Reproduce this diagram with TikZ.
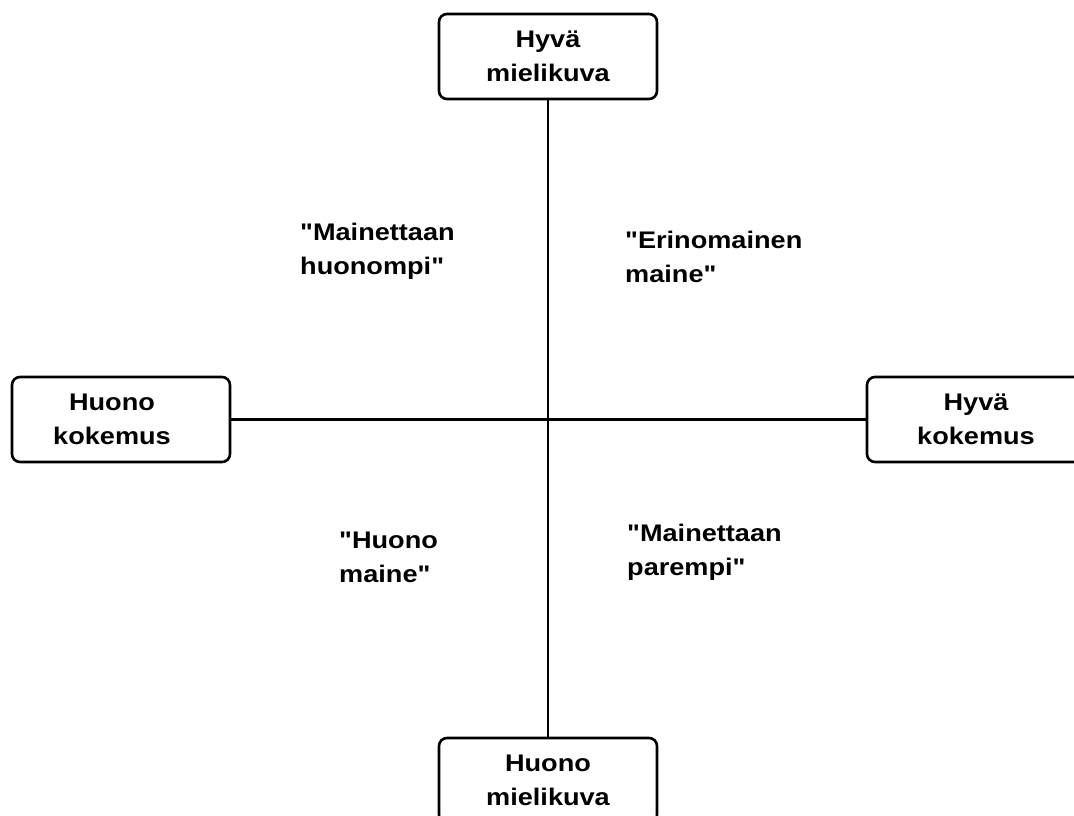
\documentclass[tikz,border=0pt]{standalone}
\usepackage{fontspec}
\newfontfamily\labfont{Liberation Sans}[FakeStretch=1.13]
\newcommand\lsh{\hspace*{-18pt}}
\begin{document}
\begin{tikzpicture}[x=1pt,y=-1pt,
  lab/.style={font=\labfont\fontsize{24}{34}\selectfont\bfseries, inner sep=0pt},
  box/.style={lab, draw, line width=2.6pt, rounded corners=8pt,
    minimum width=218pt, minimum height=85pt, align=center},
  quad/.style={lab, align=left, anchor=base west},
  axis/.style={line width=2.6pt}]
\useasboundingbox (0,0) rectangle (1074,816);
\fill[white] (0,0) rectangle (1074,816);
\clip (0,0) rectangle (1074,816);
\node[box] (top) at (548,56.5) {Hyvä\\mielikuva};
\node[box] (bot) at (548,780.5) {Huono\\mielikuva};
\node[box] (left) at (121,419.5) {\lsh Huono\\\lsh kokemus};
\node[box] (right) at (976,419.5) {Hyvä\\kokemus};
\draw[axis] (top.south) -- (bot.north);
\draw[axis] (left.east) -- (right.west);
\node[quad] (q1) at (300,274) {"Mainettaan\\huonompi"};
\node[quad] (q2) at (625,282) {"Erinomainen\\maine"};
\node[quad] (q3) at (339,582) {"Huono\\maine"};
\node[quad] (q4) at (627,575) {"Mainettaan\\parempi"};
\end{tikzpicture}
\end{document}
